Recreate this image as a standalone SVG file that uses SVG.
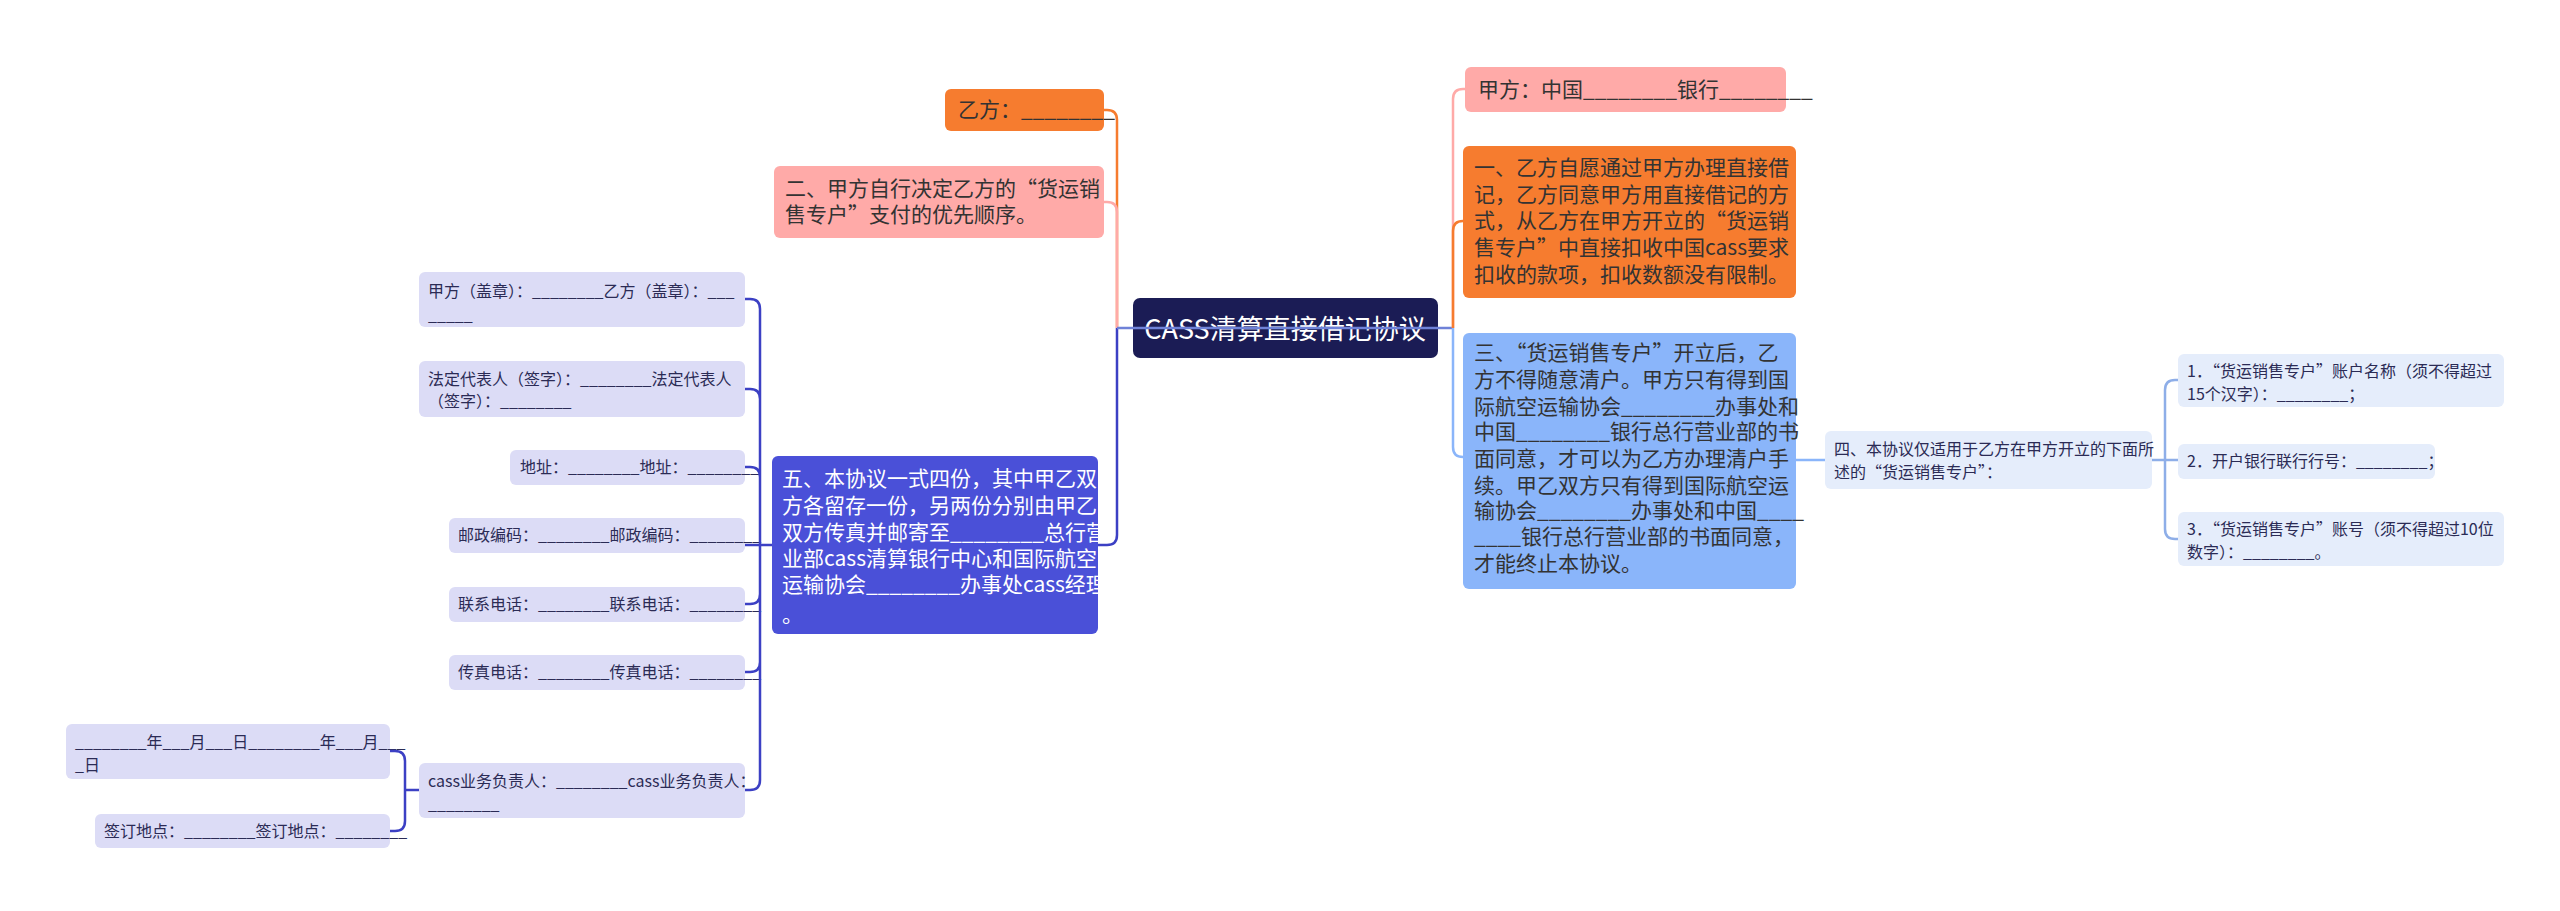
<svg xmlns="http://www.w3.org/2000/svg" width="2560" height="911" viewBox="0 0 2560 911">
<style>
text{font-family:"Noto Sans CJK SC","Noto Sans",sans-serif;fill:#333;}
.c{fill:none;stroke-width:2.5;}
.s{font-size:16px;fill:#2b2b55;}
.m{font-size:21px;}
.w{fill:#fff;}
.lv{fill:#dcdcf6;}
.lb{fill:#e5edfb;}
.b{fill:#1e2a6a;}
</style>
<rect width="2560" height="911" fill="#fff"/>
<g id="center"><rect x="1133" y="298" width="305" height="60" rx="7" fill="#1b1c55"/><text x="1285" y="339" font-size="27" text-anchor="middle" class="w">CASS清算直接借记协议</text></g>
<g id="yifang"><rect x="945" y="89" width="159" height="42" rx="6" fill="#f67c2f"/><text x="958" y="117" class="m" font-size="19">乙方：________</text></g>
<g id="er"><rect x="774" y="166" width="330" height="72" rx="6" fill="#ffaaa8"/><text x="785" y="196" class="m" font-size="20">二、甲方自行决定乙方的“货运销</text><text x="785" y="222" class="m" font-size="20">售专户”支付的优先顺序。</text></g>
<g id="wu"><rect x="772" y="456" width="326" height="178" rx="6" fill="#4a50d8"/>
<text class="m w" x="782" y="486">五、本协议一式四份，其中甲乙双</text>
<text class="m w" x="782" y="513">方各留存一份，另两份分别由甲乙</text>
<text class="m w" x="782" y="540">双方传真并邮寄至________总行营</text>
<text class="m w" x="782" y="566">业部cass清算银行中心和国际航空</text>
<text class="m w" x="782" y="592">运输协会________办事处cass经理</text>
<text class="m w" x="782" y="622">。</text></g>
<g id="jiafang"><rect x="1465" y="67" width="321" height="45" rx="6" fill="#ffaaa8"/><text x="1478" y="97" class="m" font-size="19">甲方：中国________银行________</text></g>
<g id="yi"><rect x="1463" y="146" width="333" height="152" rx="6" fill="#f67c2f"/>
<text class="m" x="1474" y="175">一、乙方自愿通过甲方办理直接借</text>
<text class="m" x="1474" y="202">记，乙方同意甲方用直接借记的方</text>
<text class="m" x="1474" y="228">式，从乙方在甲方开立的“货运销</text>
<text class="m" x="1474" y="255">售专户”中直接扣收中国cass要求</text>
<text class="m" x="1474" y="282">扣收的款项，扣收数额没有限制。</text></g>
<g id="san"><rect x="1463" y="333" width="333" height="256" rx="6" fill="#8ab5fa"/>
<text class="m" x="1474" y="360">三、“货运销售专户”开立后，乙</text>
<text class="m" x="1474" y="387">方不得随意清户。甲方只有得到国</text>
<text class="m" x="1474" y="414">际航空运输协会________办事处和</text>
<text class="m" x="1474" y="439">中国________银行总行营业部的书</text>
<text class="m" x="1474" y="466">面同意，才可以为乙方办理清户手</text>
<text class="m" x="1474" y="493">续。甲乙双方只有得到国际航空运</text>
<text class="m" x="1474" y="518">输协会________办事处和中国____</text>
<text class="m" x="1474" y="544">____银行总行营业部的书面同意，</text>
<text class="m" x="1474" y="571">才能终止本协议。</text></g>
<g id="si"><rect x="1825" y="431" width="327" height="58" rx="6" class="lb"/><text class="s" x="1834" y="455">四、本协议仅适用于乙方在甲方开立的下面所</text><text class="s" x="1834" y="478">述的“货运销售专户”：</text></g>
<g id="i1"><rect x="2178" y="354" width="326" height="53" rx="6" class="lb"/><text class="s" x="2187" y="377">1．“货运销售专户”账户名称（须不得超过</text><text class="s" x="2187" y="400">15个汉字）：________；</text></g>
<g id="i2"><rect x="2178" y="444" width="257" height="35" rx="6" class="lb"/><text class="s" x="2187" y="467">2．开户银行联行行号：________；</text></g>
<g id="i3"><rect x="2178" y="512" width="326" height="54" rx="6" class="lb"/><text class="s" x="2187" y="535">3．“货运销售专户”账号（须不得超过10位</text><text class="s" x="2187" y="558">数字）：________。</text></g>
<g id="l1"><rect x="419" y="272" width="326" height="55" rx="6" class="lv"/><text class="s" x="428" y="297">甲方（盖章）：________乙方（盖章）：___</text><text class="s" x="428" y="321">_____</text></g>
<g id="l2"><rect x="419" y="361" width="326" height="56" rx="6" class="lv"/><text class="s" x="428" y="385">法定代表人（签字）：________法定代表人</text><text class="s" x="428" y="407">（签字）：________</text></g>
<g id="l3"><rect x="510" y="450" width="235" height="35" rx="6" class="lv"/><text class="s" x="520" y="473">地址：________地址：________</text></g>
<g id="l4"><rect x="449" y="518" width="296" height="35" rx="6" class="lv"/><text class="s" x="458" y="541">邮政编码：________邮政编码：________</text></g>
<g id="l5"><rect x="449" y="587" width="296" height="35" rx="6" class="lv"/><text class="s" x="458" y="610">联系电话：________联系电话：________</text></g>
<g id="l6"><rect x="449" y="655" width="296" height="35" rx="6" class="lv"/><text class="s" x="458" y="678">传真电话：________传真电话：________</text></g>
<g id="l7"><rect x="419" y="763" width="326" height="55" rx="6" class="lv"/><text class="s" x="428" y="787">cass业务负责人：________cass业务负责人：</text><text class="s" x="428" y="810">________</text></g>
<g id="l8"><rect x="66" y="724" width="324" height="55" rx="6" class="lv"/><text class="s" x="75" y="748">________年___月___日________年___月___</text><text class="s" x="75" y="771">_日</text></g>
<g id="l9"><rect x="95" y="814" width="295" height="34" rx="6" class="lv"/><text class="s" x="104" y="837">签订地点：________签订地点：________</text></g>
<g id="connectors">
<path class="c" stroke="#f67c2f" d="M1117 328 V120 Q1117 110 1107 110 H1104"/>
<path class="c" stroke="#ffaaa8" d="M1117 328 V212 Q1117 202 1107 202 H1104"/>
<path class="c" stroke="#3c40c4" d="M1117 328 V535 Q1117 545 1107 545 H1098"/>
<path class="c" stroke="#6f82d8" d="M1117 328 H1453"/>
<path class="c" stroke="#ffaaa8" d="M1453 328 V99 Q1453 89 1463 89 H1465"/>
<path class="c" stroke="#f67c2f" d="M1453 328 V231 Q1453 221 1463 221"/>
<path class="c" stroke="#8ab5fa" d="M1453 328 V447 Q1453 457 1463 457"/>
<path class="c" stroke="#8ab5fa" d="M1796 460 H1825"/>
<path class="c" stroke="#8eaee8" d="M2152 460 H2178 M2165 460 V390 Q2165 380 2175 380 H2178 M2165 460 V529 Q2165 539 2175 539 H2178"/>
<path class="c" stroke="#3c40c4" d="M772 545 H760 M760 545 V309 Q760 299 750 299 H745 M760 545 V399 Q760 389 750 389 H745 M760 545 V477 Q760 467 750 467 H745 M760 545 V545 H745 M760 545 V594 Q760 604 750 604 H745 M760 545 V662 Q760 672 750 672 H745 M760 545 V780 Q760 790 750 790 H745"/>
<path class="c" stroke="#3c40c4" d="M419 790 H405 M405 790 V761 Q405 751 395 751 H390 M405 790 V821 Q405 831 395 831 H390"/>
</g>
</svg>
